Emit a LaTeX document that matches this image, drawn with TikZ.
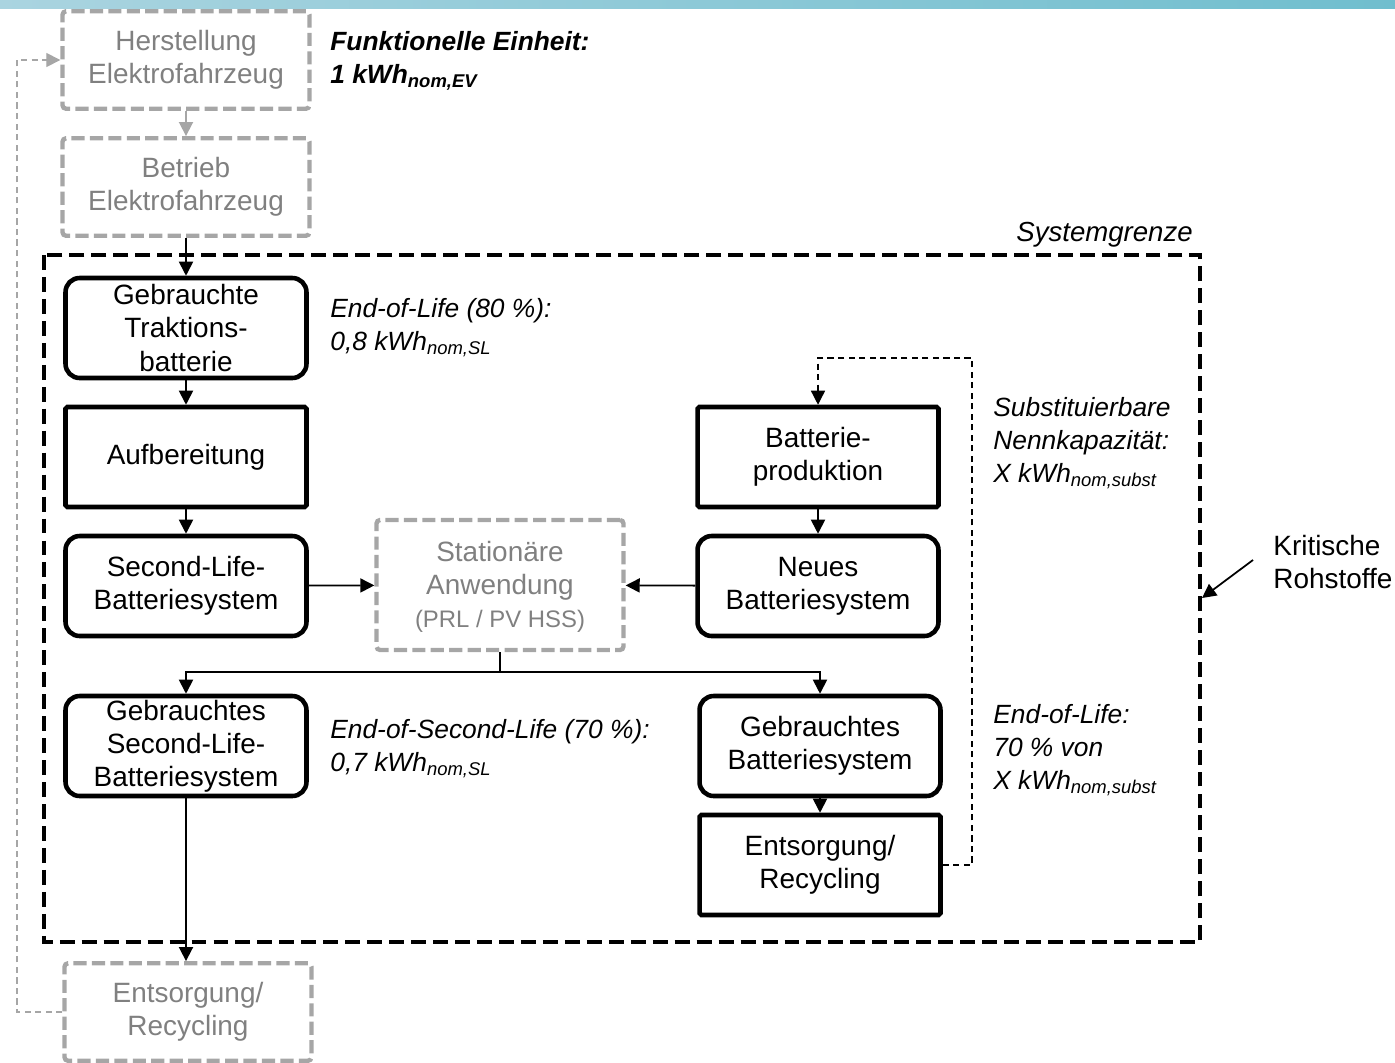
\documentclass[tikz,border=0pt]{standalone}
\usepackage{fontspec}
\setmainfont{Liberation Sans}
\usetikzlibrary{arrows.meta}
\definecolor{boxgray}{RGB}{166,166,166}
\definecolor{textgray}{RGB}{128,128,128}
\definecolor{barleft}{RGB}{170,212,224}
\definecolor{barright}{RGB}{112,190,206}
\begin{document}
\begin{tikzpicture}[
    x=0.02cm, y=-0.02cm,
    >={Triangle[length=8pt,width=8pt]},
    every node/.style={font=\fontsize{15.9}{18.8}\selectfont},
    proc/.style={draw, line width=2.6pt, minimum width=4.82cm, minimum height=2cm, align=center, inner sep=0pt, rounded corners=1pt},
    batt/.style={proc, rounded corners=8pt},
    ext/.style={draw=boxgray, text=textgray, line width=2.5pt, dash pattern=on 7.5pt off 3pt, minimum width=4.94cm, minimum height=1.95cm, align=center, inner sep=0pt, rounded corners=2pt},
    note/.style={font=\fontsize{15}{18.8}\selectfont\itshape, align=left, anchor=west, inner sep=0pt},
    flow/.style={->, line width=1pt},
    back/.style={->, line width=0.8pt, dash pattern=on 3.5pt off 2.5pt}
  ]
  \useasboundingbox (0,0) rectangle (1395,1062);
  \shade[left color=barleft, right color=barright] (0,0) rectangle (1395,8);
  % Vehicle life (outside).
  \node[ext] (herst) at (186,60) {Herstellung\\Elektrofahrzeug};
  \node[ext] (betrieb) at (186,187) {Betrieb\\Elektrofahrzeug};
  \node[ext] (entsext) at (188,1012) {Entsorgung/\\Recycling};
  % System boundary.
  \draw[line width=2.6pt, dash pattern=on 8.5pt off 4pt] (44,255) rectangle (1200,942);
  \node[note, anchor=east, font=\fontsize{15.7}{18.8}\selectfont\itshape] (sysg) at (1193,235) {Systemgrenze};
  % Second life.
  \node[batt] (gtb) at (186,328) {Gebrauchte\\Traktions-\\batterie};
  \node[proc] (aufb) at (186,457) {Aufbereitung};
  \node[batt] (slbs) at (186,586) {Second-Life-\\Batteriesystem};
  \node[ext, minimum height=2.6cm] (stat) at (500,585) {\raisebox{0pt}[14pt][5pt]{}Stationäre\\Anwendung\\{\fontsize{13.6}{16}\selectfont(PRL / PV HSS)}};
  \node[batt] (gslbs) at (186,746) {Gebrauchtes\\Second-Life-\\Batteriesystem};
  % New battery.
  \node[proc] (bprod) at (818,457) {Batterie-\\produktion};
  \node[batt] (neu) at (818,586) {Neues\\Batteriesystem};
  \node[batt] (gbs) at (820,746) {Gebrauchtes\\Batteriesystem};
  \node[proc] (entsorg) at (820,865) {Entsorgung/\\Recycling};
  % Notes.
  \node[note, font=\fontsize{15}{18.8}\selectfont\bfseries\itshape] (fe) at (330,61) {Funktionelle Einheit:\\1 kWh\textsubscript{nom,EV}};
  \node[note] (eol1) at (330,328) {End-of-Life (80 \%):\\0,8 kWh\textsubscript{nom,SL}};
  \node[note] (subst) at (993,443) {Substituierbare\\Nennkapazität:\\X kWh\textsubscript{nom,subst}};
  \node[note] (eosl) at (330,749) {End-of-Second-Life (70 \%):\\0,7 kWh\textsubscript{nom,SL}};
  \node[note] (eol2) at (993,750) {End-of-Life:\\70 \% von\\X kWh\textsubscript{nom,subst}};
  \node[anchor=west, align=left, inner sep=0pt] (krit) at (1273,562) {Kritische\\Rohstoffe};
  % Flows.
  \coordinate (split) at (500,672);
  \coordinate (rueck) at (972,358);
  \coordinate (loopl) at (17,1012);
  \coordinate (kstart) at (1253,560);
  \coordinate (rohstoff) at (1202,598);
  \draw[flow, boxgray] (herst) -- (betrieb);
  \draw[flow] (betrieb) -- (gtb);
  \draw[flow] (gtb) -- (aufb);
  \draw[flow] (aufb) -- (slbs);
  \draw[flow] (slbs) -- (stat);
  \draw[flow] (neu) -- (stat);
  \draw[flow] (bprod) -- (neu);
  \draw[flow] (gbs) -- (entsorg);
  \draw[line width=1pt] (stat) -- (split);
  \draw[flow] (split) -| (gslbs);
  \draw[flow] (split) -| (gbs);
  \draw[flow] (gslbs.south) -- (gslbs.south |- entsext.north);
  \draw[back] (entsorg) -| (rueck) -| (bprod);
  \draw[back, boxgray] (entsext) -- (loopl) |- (herst);
  \draw[flow] (kstart) -- (rohstoff);
\end{tikzpicture}
\end{document}
